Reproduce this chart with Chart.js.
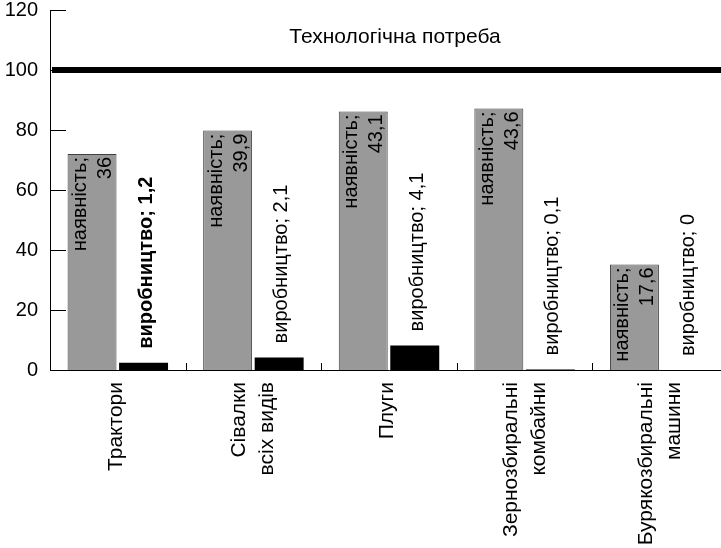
<!DOCTYPE html>
<html>
<head>
<meta charset="utf-8">
<script src="https://cdn.jsdelivr.net/npm/chart.js@4.4.0/dist/chart.umd.min.js"></script>
<style>
  html, body { margin: 0; padding: 0; background: #fff; overflow: hidden; }
  #wrap { width: 721px; height: 548px; overflow: hidden; }
  canvas { display: block; }
</style>
</head>
<body>
<div id="wrap"><canvas id="chart" width="730" height="548"></canvas></div>
<script>
// Data
const categories = ['Трактори', ['Сівалки', 'всіх видів'], 'Плуги', ['Зернозбиральні', 'комбайни'], ['Бурякозбиральні', 'машини']];
const availability = [72, 79.8, 86.2, 87.2, 35.2];      // bar heights
const production = [2.4, 4.2, 8.2, 0.2, 0];             // bar heights
const availabilityLabels = [36, 39.9, 43.1, 43.6, 17.6];
const productionLabels = [1.2, 2.1, 4.1, 0.1, 0];
const needLevel = 100;
const needTitle = 'Технологічна потреба';
const yTicks = [0, 20, 40, 60, 80, 100, 120];

const FONT = '"Liberation Sans", Arial, sans-serif';
const fmt = v => String(v).replace('.', ',');

const overlay = {
  id: 'overlay',
  afterDatasetsDraw(chart) {
    const ctx = chart.ctx;
    const area = chart.chartArea;
    const x = chart.scales.x, y = chart.scales.y;
    ctx.save();

    // inward ticks on the value axis
    ctx.strokeStyle = '#000';
    ctx.lineWidth = 1;
    yTicks.forEach(v => {
      if (v === 0) return;
      const py = Math.round(y.getPixelForValue(v)) + 0.5;
      ctx.beginPath();
      ctx.moveTo(area.left, py);
      ctx.lineTo(area.left + 16, py);
      ctx.stroke();
    });

    // short category separators on the x axis
    for (let i = 1; i < categories.length; i++) {
      const px = Math.round((x.getPixelForValue(i - 1) + x.getPixelForValue(i)) / 2) + 0.5;
      ctx.beginPath();
      ctx.moveTo(px, area.bottom);
      ctx.lineTo(px, area.bottom - 7);
      ctx.stroke();
    }

    // category labels, rotated, right-aligned under the axis
    ctx.fillStyle = '#000';
    ctx.font = '21px ' + FONT;
    categories.forEach((c, i) => {
      const lines = Array.isArray(c) ? c : [c];
      const cx = x.getPixelForValue(i);
      ctx.save();
      ctx.translate(cx, area.bottom + 12);
      ctx.rotate(-Math.PI / 2);
      ctx.textAlign = 'right';
      ctx.textBaseline = 'alphabetic';
      if (lines.length === 1) {
        ctx.fillText(lines[0], 0, 4);
      } else {
        ctx.fillText(lines[0], 0, -8);
        ctx.fillText(lines[1], 0, 20);
      }
      ctx.restore();
    });

    // technological need line
    const ny = y.getPixelForValue(needLevel);
    ctx.lineWidth = 6;
    ctx.beginPath();
    ctx.moveTo(area.left + 2, ny);
    ctx.lineTo(chart.width, ny);
    ctx.stroke();
    ctx.font = '21px ' + FONT;
    ctx.textAlign = 'center';
    ctx.textBaseline = 'alphabetic';
    ctx.fillText(needTitle, (area.left + area.right) / 2 + 6, ny - 27);

    // labels inside grey bars
    chart.getDatasetMeta(0).data.forEach((bar, i) => {
      ctx.save();
      ctx.translate(bar.x, bar.y + 3);
      ctx.rotate(-Math.PI / 2);
      ctx.textAlign = 'right';
      ctx.font = '20px ' + FONT;
      ctx.fillText('наявність;', 0, -6);
      ctx.fillText(fmt(availabilityLabels[i]), 0, 19);
      ctx.restore();
    });

    // labels above black bars
    chart.getDatasetMeta(1).data.forEach((bar, i) => {
      ctx.save();
      ctx.translate(bar.x, bar.y - 14);
      ctx.rotate(-Math.PI / 2);
      ctx.textAlign = 'left';
      ctx.font = (i === 0 ? 'bold ' : '') + '20px ' + FONT;
      ctx.fillText('виробництво; ' + fmt(productionLabels[i]), 0, 8);
      ctx.restore();
    });

    ctx.restore();
  }
};

new Chart(document.getElementById('chart'), {
  type: 'bar',
  data: {
    labels: categories,
    datasets: [
      {
        label: 'наявність',
        data: availability,
        backgroundColor: '#999999',
        borderColor: '#404040',
        borderWidth: 1,
        borderSkipped: 'bottom',
        categoryPercentage: 0.76,
        barPercentage: 0.95,
      },
      {
        label: 'виробництво',
        data: production,
        backgroundColor: '#000000',
        borderWidth: 0,
        categoryPercentage: 0.76,
        barPercentage: 0.95,
      }
    ]
  },
  options: {
    responsive: false,
    animation: false,
    layout: { padding: { top: 10, right: 2, left: 0, bottom: 0 } },
    plugins: {
      legend: { display: false },
      tooltip: { enabled: false },
    },
    scales: {
      x: {
        grid: { display: false, drawTicks: false },
        border: { display: true, color: '#000', width: 1 },
        ticks: { display: false },
        afterFit(scale) {
          scale.height = 178;
          scale.paddingLeft = 0;
          scale.paddingRight = 0;
        }
      },
      y: {
        min: 0,
        max: 120,
        grid: { display: false, drawTicks: false },
        border: { display: true, color: '#000', width: 1 },
        afterBuildTicks(scale) {
          scale.ticks = yTicks.map(v => ({ value: v }));
        },
        ticks: {
          color: '#000',
          font: { family: FONT, size: 20, lineHeight: 1 },
          padding: 12,
        },
        afterFit(scale) {
          scale.width = 50;
          scale.paddingTop = 0;
          scale.paddingBottom = 0;
        }
      }
    }
  },
  plugins: [overlay]
});
</script>
</body>
</html>
